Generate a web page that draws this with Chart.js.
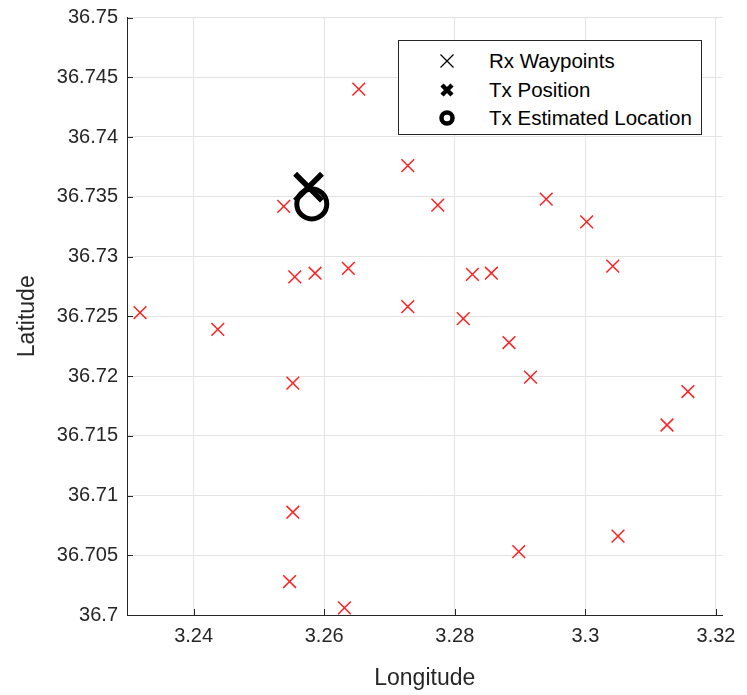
<!DOCTYPE html>
<html lang="en">
<head>
<meta charset="UTF-8">
<title>Rx Waypoints and Tx Location</title>
<script src="https://cdn.jsdelivr.net/npm/chart.js"></script>
<style>
    * { margin: 0; padding: 0; box-sizing: border-box; }
    body { background: white; width: 747px; height: 695px; overflow: hidden; font-family: 'Liberation Sans', Arial, sans-serif; }
    .wrap { position: relative; width: 747px; height: 695px; overflow: hidden; }
    /* chart.js keeps ~24px above the plot for the top tick label; shift up so the plot starts at 17px */
    #geoChart { position: absolute; left: 0; top: -7px; }

    /* legend box drawn over the plot */
    .legend { position: absolute; left: 398px; top: 40px; width: 304px; height: 95px; background: white; border: 1px solid #262626; padding-top: 6px; }
    .legend .row { display: flex; align-items: center; height: 28.5px; }
    .legend svg { margin-left: 37px; width: 22px; height: 22px; }
    .legend span { margin-left: 31px; font-size: 20.5px; color: #000; }
</style>
</head>
<body>
<div class="wrap">
    <canvas id="geoChart" width="747" height="702"></canvas>
    <div class="legend">
        <div class="row">
            <svg viewBox="0 0 22 22"><path d="M4.5 4.5 L17.5 17.5 M17.5 4.5 L4.5 17.5" stroke="#000" stroke-width="1.3" fill="none"/></svg>
            <span>Rx Waypoints</span>
        </div>
        <div class="row">
            <svg viewBox="0 0 22 22"><path d="M6 6 L16 16 M16 6 L6 16" stroke="#000" stroke-width="4.5" fill="none"/></svg>
            <span>Tx Position</span>
        </div>
        <div class="row">
            <svg viewBox="0 0 22 22"><circle cx="11" cy="11" r="5.5" stroke="#000" stroke-width="4.5" fill="none"/></svg>
            <span>Tx Estimated Location</span>
        </div>
    </div>
</div>

<script>
    // Rx waypoints (longitude / latitude)
    var rxLon = [3.2318, 3.2437, 3.2538, 3.2555, 3.2586, 3.2552, 3.2552, 3.2547,
                 3.2653, 3.2728, 3.2774, 3.2637, 3.2728, 3.2827, 3.2856, 3.2813,
                 3.2883, 3.2916, 3.2898, 3.2631, 3.2940, 3.3002, 3.3042, 3.3157,
                 3.3125, 3.3050];
    var rxLat = [36.7253, 36.7239, 36.7342, 36.7283, 36.7286, 36.7194, 36.7086, 36.7028,
                 36.7440, 36.7376, 36.7343, 36.7290, 36.7258, 36.7285, 36.7286, 36.7248,
                 36.7228, 36.7199, 36.7053, 36.7006, 36.7348, 36.7329, 36.7292, 36.7187,
                 36.7159, 36.7066];

    // transmitter
    var txLon = [3.2576];
    var txLat = [36.7358];
    var estLon = [3.2581];
    var estLat = [36.7344];

    // axes
    var xTickValues = [3.24, 3.26, 3.28, 3.30, 3.32];
    var xTickLabels = ["3.24", "3.26", "3.28", "3.3", "3.32"];
    var yTickValues = [36.70, 36.705, 36.71, 36.715, 36.72, 36.725, 36.73, 36.735, 36.74, 36.745, 36.75];
    var yTickLabels = ["36.7", "36.705", "36.71", "36.715", "36.72", "36.725", "36.73", "36.735", "36.74", "36.745", "36.75"];

    function toPoints(xs, ys) {
        return xs.map(function (x, i) { return { x: x, y: ys[i] }; });
    }

    // small inward tick marks, matlab style
    var inwardTicks = {
        id: 'inwardTicks',
        beforeDatasetsDraw: function (chart) {
            var c = chart.ctx, area = chart.chartArea;
            var sx = chart.scales.x, sy = chart.scales.y;
            c.save();
            c.strokeStyle = '#262626';
            c.lineWidth = 1;
            c.beginPath();
            xTickValues.forEach(function (v) {
                var px = Math.round(sx.getPixelForValue(v)) + 0.5;
                c.moveTo(px, area.bottom);
                c.lineTo(px, area.bottom - 6);
            });
            yTickValues.forEach(function (v) {
                var py = Math.round(sy.getPixelForValue(v)) + 0.5;
                c.moveTo(area.left, py);
                c.lineTo(area.left + 6, py);
            });
            c.stroke();
            c.restore();
        }
    };

    var fam = "'Liberation Sans', Arial, sans-serif";
    var titleFont = { family: fam, size: 23 };

    var ctx = document.getElementById("geoChart").getContext("2d");
    var geoChart = new Chart(ctx, {
        type: "scatter",
        data: {
            datasets: [{
                label: "Rx Waypoints",
                data: toPoints(rxLon, rxLat),
                pointStyle: "crossRot",
                radius: 9,
                borderColor: "#ff2020",
                borderWidth: 1.5
            }, {
                label: "Tx Position",
                data: toPoints(txLon, txLat),
                pointStyle: "crossRot",
                radius: 19,
                borderColor: "#000000",
                borderWidth: 5.5
            }, {
                label: "Tx Estimated Location",
                data: toPoints(estLon, estLat),
                pointStyle: "circle",
                radius: 15,
                borderColor: "#000000",
                backgroundColor: "rgba(0,0,0,0)",
                borderWidth: 5
            }]
        },
        options: {
            responsive: false,
            animation: false,
            events: [],
            layout: { padding: { top: 0, right: 20, left: 0, bottom: 0 } },
            plugins: {
                legend: { display: false },
                tooltip: { enabled: false }
            },
            scales: {
                x: {
                    type: "linear",
                    min: 3.2298,
                    max: 3.321,
                    afterBuildTicks: function (s) {
                        s.ticks = xTickValues.map(function (v) { return { value: v }; });
                    },
                    afterFit: function (s) {
                        s.height = 80;
                    },
                    ticks: {
                        callback: function (v, i) { return xTickLabels[i]; },
                        color: "#262626",
                        font: { family: fam, size: 20 },
                        maxRotation: 0,
                        padding: 9
                    },
                    grid: { color: "#e3e3e3", drawTicks: false },
                    border: { color: "#262626", width: 1 },
                    title: {
                        display: true,
                        text: "Longitude",
                        color: "#262626",
                        font: titleFont,
                        padding: { top: 0, bottom: 3 }
                    }
                },
                y: {
                    type: "linear",
                    min: 36.70,
                    max: 36.75,
                    afterBuildTicks: function (s) {
                        s.ticks = yTickValues.map(function (v) { return { value: v }; });
                    },
                    afterFit: function (s) {
                        s.width = 127;
                    },
                    ticks: {
                        callback: function (v, i) { return yTickLabels[i]; },
                        color: "#262626",
                        font: { family: fam, size: 20 },
                        padding: 9
                    },
                    grid: { color: "#e3e3e3", drawTicks: false },
                    border: { color: "#262626", width: 1 },
                    title: {
                        display: true,
                        text: "Latitude",
                        color: "#262626",
                        font: titleFont,
                        padding: { top: 14, bottom: 0 }
                    }
                }
            }
        },
        plugins: [inwardTicks]
    });
</script>
</body>
</html>
